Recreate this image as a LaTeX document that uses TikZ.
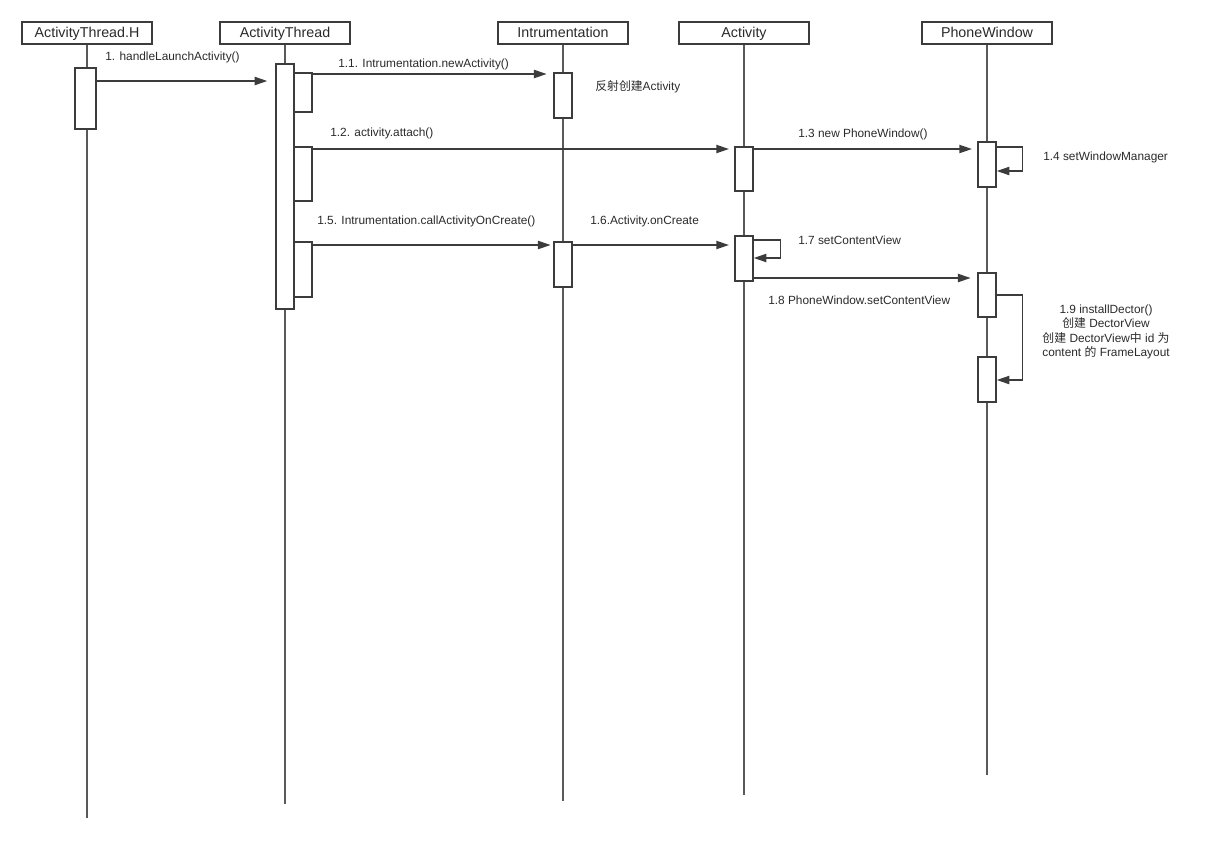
\documentclass[tikz,border=0pt]{standalone}
\usepackage{fontspec}
\setmainfont{Liberation Sans}
\newfontfamily\cjk{Noto Sans CJK SC}
\usetikzlibrary{arrows.meta,fit}
\definecolor{ln}{HTML}{3C3C3C}
\definecolor{tx}{HTML}{2A2A2A}
\begin{document}
\begin{tikzpicture}[x=0.75pt,y=-0.75pt,
  head/.style={draw=ln,line width=1.1pt,minimum width=97.5pt,minimum height=16.5pt,inner sep=0pt,font=\fontsize{10.7}{12}\selectfont,text=tx,fill=white,text height=0.716em,text depth=0pt},
  life/.style={draw=ln!85,line width=0.8pt},
  actbox/.style={draw=ln,line width=1.1pt,fill=white,inner sep=0pt},
  msg/.style={draw=ln,line width=1.1pt,-{Triangle[length=9.5pt,width=6.2pt]}},
  lbl/.style={font=\fontsize{8.9}{10.7}\selectfont,text=tx,inner sep=0pt},
]
\useasboundingbox (0,0) rectangle (1209,840);
% heads
\node[head] (hH) at (87,33) {ActivityThread.H};
\node[head] (hA) at (285,33) {ActivityThread};
\node[head] (hI) at (563,33) {Intrumentation};
\node[head] (hC) at (744,33) {Activity};
\node[head] (hP) at (987,33) {PhoneWindow};
% lifeline ends
\coordinate (eH) at (87,818);
\coordinate (eA) at (285,804);
\coordinate (eI) at (563,801);
\coordinate (eC) at (744,795);
\coordinate (eP) at (987,775);
\draw[life] (hH.south) -- (eH);
\draw[life] (hA.south) -- (eA);
\draw[life] (hI.south) -- (eI);
\draw[life] (hC.south) -- (eC);
\draw[life] (hP.south) -- (eP);
% activations
\node[actbox,fit={(75,68) (96,129)}] (h1) {};
\node[actbox,fit={(276,64) (294,309)}] (at0) {};
\node[actbox,fit={(294,73) (312,112)}] (at1) {};
\node[actbox,fit={(294,147) (312,201)}] (at2) {};
\node[actbox,fit={(294,242) (312,297)}] (at3) {};
\node[actbox,fit={(554,73) (572,118)}] (in1) {};
\node[actbox,fit={(554,242) (572,287)}] (in2) {};
\node[actbox,fit={(735,147) (753,191)}] (ac1) {};
\node[actbox,fit={(735,236) (753,281)}] (ac2) {};
\node[actbox,fit={(978,142) (996,187)}] (pw1) {};
\node[actbox,fit={(978,273) (996,317)}] (pw2) {};
\node[actbox,fit={(978,357) (996,402)}] (pw3) {};
% message rows
\coordinate (y1) at (0,81);
\coordinate (y11) at (0,74);
\coordinate (y12) at (0,149);
\coordinate (y14a) at (0,147);
\coordinate (y14b) at (0,171);
\coordinate (y15) at (0,245);
\coordinate (y17a) at (0,240);
\coordinate (y17b) at (0,258);
\coordinate (y18) at (0,278);
\coordinate (y19a) at (0,295);
\coordinate (y19b) at (0,380);
% messages
\draw[msg,shorten >=6pt] (h1.east |- y1) -- (at0.west |- y1);
\draw[msg,shorten >=5pt] (at1.east |- y11) -- (in1.west |- y11);
\draw[msg,shorten >=4pt] (at2.east |- y12) -- (ac1.west |- y12);
\draw[msg,shorten >=4pt] (ac1.east |- y12) -- (pw1.west |- y12);
\draw[msg] (pw1.east |- y14a) -- ++(26,0) |- (pw1.east |- y14b);
\draw[msg,shorten >=2pt] (at3.east |- y15) -- (in2.west |- y15);
\draw[msg,shorten >=4pt] (in2.east |- y15) -- (ac2.west |- y15);
\draw[msg] (ac2.east |- y17a) -- ++(27,0) |- (ac2.east |- y17b);
\draw[msg,shorten >=5pt] (ac2.east |- y18) -- (pw2.west |- y18);
\draw[msg] (pw2.east |- y19a) -- ++(26,0) |- (pw3.east |- y19b);
% labels
\node[lbl,anchor=west] (l1) at (105,57) {1. handleLaunchActivity()};
\node[lbl,anchor=west] (l11) at (338,64) {1.1. Intrumentation.newActivity()};
\node[lbl,anchor=west] (lr) at (595,87) {{\cjk 反射创建}Activity};
\node[lbl,anchor=west] (l12) at (330,133) {1.2. activity.attach()};
\node[lbl,anchor=west] (l13) at (798,134) {1.3 new PhoneWindow()};
\node[lbl,anchor=west] (l14) at (1043,157) {1.4 setWindowManager};
\node[lbl,anchor=west] (l15) at (317,221) {1.5. Intrumentation.callActivityOnCreate()};
\node[lbl,anchor=west] (l16) at (590,221) {1.6.Activity.onCreate};
\node[lbl,anchor=west] (l17) at (798,240) {1.7 setContentView};
\node[lbl,anchor=west] (l18) at (768,300) {1.8 PhoneWindow.setContentView};
\node[lbl,align=center] (l19) at (1106,332)
  {1.9 installDector()\\{\cjk 创建} DectorView\\{\cjk 创建} DectorView{\cjk 中} id {\cjk 为}\\content {\cjk 的} FrameLayout};
\end{tikzpicture}
\end{document}
